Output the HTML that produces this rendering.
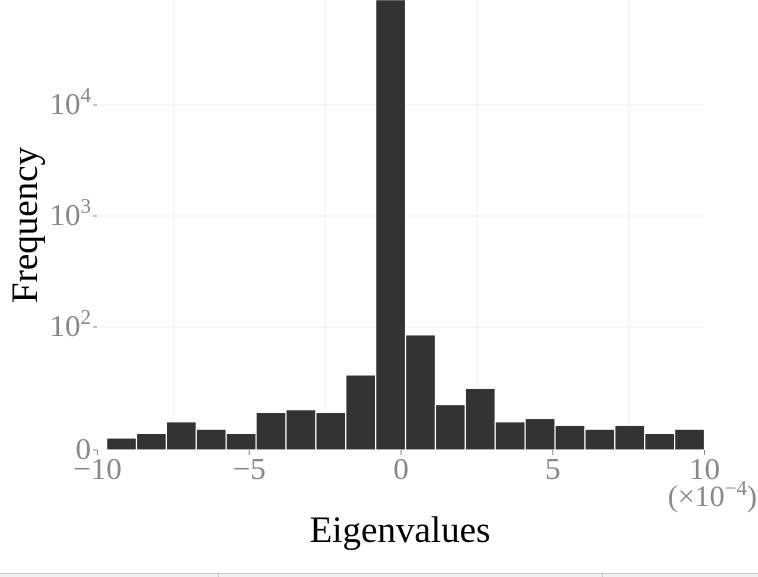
<!DOCTYPE html>
<html><head><meta charset="utf-8"><style>
body{margin:0;background:#fff;width:758px;height:577px;overflow:hidden}
svg{display:block;font-family:"Liberation Serif",serif}
</style></head><body>
<svg width="758" height="577">
<g id="grid"></g>
<g id="bars"></g>
<g id="axes"></g>
<text x="757" y="506" font-size="30" fill="#888" text-anchor="end">(×10<tspan dy="-11" font-size="21">−4</tspan><tspan dy="11">)</tspan></text>
<text x="400" y="542" font-size="37" fill="#000" text-anchor="middle">Eigenvalues</text>
<text transform="translate(37,225) rotate(-90)" font-size="37" fill="#000" text-anchor="middle">Frequency</text>
<rect x="0" y="573" width="758" height="4" fill="#f0f0f0"/>
<line x1="0" y1="573.5" x2="758" y2="573.5" stroke="#c8c8c8"/>
<line x1="218.5" y1="573" x2="218.5" y2="577" stroke="#c8c8c8"/>
<line x1="602.5" y1="573" x2="602.5" y2="577" stroke="#c8c8c8"/>
</svg>
<script>
const counts=[10,11,14,12,11,17,18,17,37,89000,85,20,28,14,15,13,12,13,11,12];
const binStart=-9.7, binWidth=0.985;
const xTicks=[-10,-5,0,5,10];
const xTickLabels=["−10","−5","0","5","10"];
const yTicks=[0,100,1000,10000];
const yTickLabels=[["0",""],["10","2"],["10","3"],["10","4"]];
const ns="http://www.w3.org/2000/svg";
function X(v){return 401+v*30.35;}
function Y(v){if(v<=0)return 450;return Math.min(450,327-111*(Math.log10(v)-2));}
function mk(tag,attrs,parent){const e=document.createElementNS(ns,tag);for(const k in attrs)e.setAttribute(k,attrs[k]);parent.appendChild(e);return e;}
const grid=document.getElementById('grid'),bars=document.getElementById('bars'),axes=document.getElementById('axes');
[-7.5,-2.5,2.5,7.5].forEach(v=>{const l=mk('line',{x1:X(v),x2:X(v),y1:0,y2:450,stroke:'#efefef','stroke-width':1},grid);

});
yTicks.slice(1).forEach(v=>{const l=mk('line',{x1:97,x2:704,y1:Y(v),y2:Y(v),stroke:'#efefef','stroke-width':1},grid);

});
counts.forEach((c,i)=>{const x0=X(binStart+i*binWidth),x1=X(binStart+(i+1)*binWidth);const y=Y(c);
const r=mk('rect',{x:x0,y:y,width:x1-x0,height:450-y,fill:'#333',stroke:'#fff','stroke-width':1.2},bars);

});
xTicks.forEach((v,i)=>{const t=mk('line',{x1:X(v),x2:X(v),y1:450,y2:455,stroke:'#888'},axes);


const tx=mk('text',{x:X(v),y:479,'font-size':31,fill:'#888','text-anchor':'middle'},axes);tx.textContent=xTickLabels[i];

});
yTicks.forEach((v,i)=>{const t=mk('line',{x1:93,x2:97,y1:Y(v),y2:Y(v),stroke:'#888'},axes);


const tx=mk('text',{x:91,y:Y(v)+9,'font-size':31,fill:'#888','text-anchor':'end'},axes);
tx.textContent=yTickLabels[i][0];
if(yTickLabels[i][1]){const s=mk('tspan',{dy:-12,'font-size':21},tx);s.textContent=yTickLabels[i][1];}

});
</script>
</body></html>
